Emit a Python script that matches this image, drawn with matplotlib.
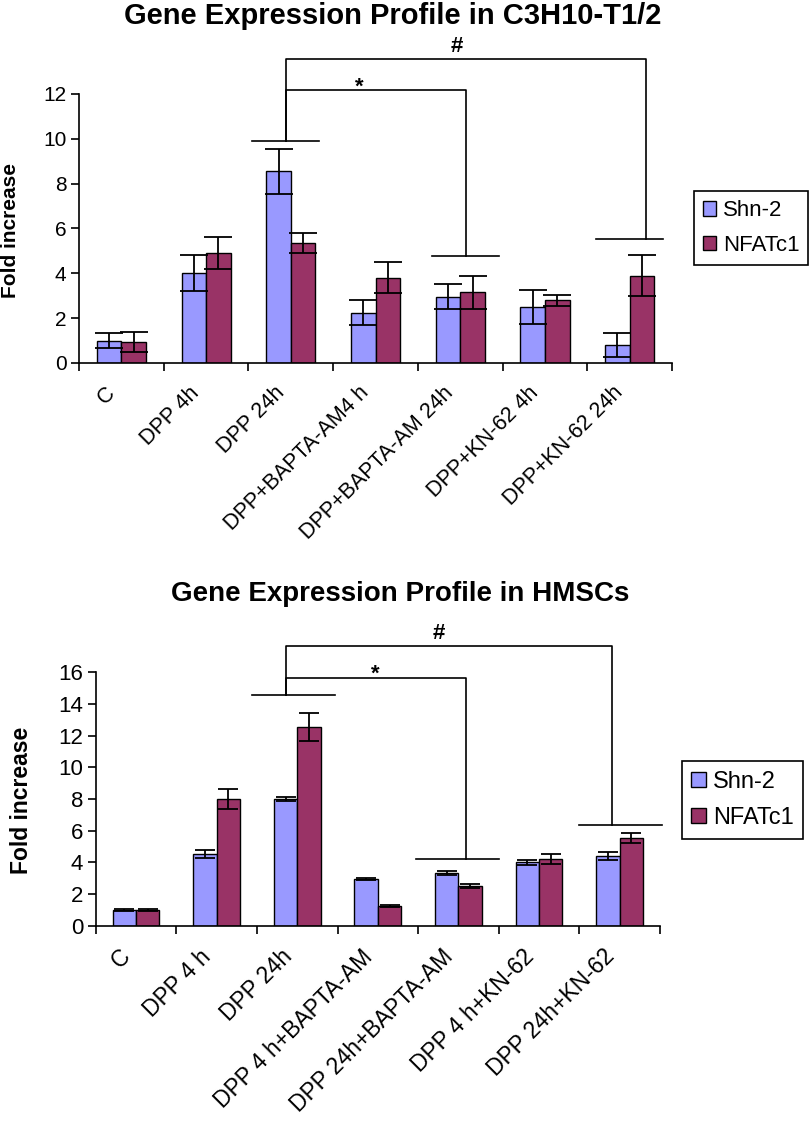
import numpy as np
import matplotlib
matplotlib.use('Agg')
import matplotlib.pyplot as plt
from matplotlib.transforms import ScaledTranslation

plt.rcParams['font.family'] = ['Liberation Sans', 'DejaVu Sans']

# ── Data ──────────────────────────────────────────────────────────
labels_top = ['C', 'DPP 4h', 'DPP 24h', 'DPP+BAPTA-AM4 h', 'DPP+BAPTA-AM 24h',
              'DPP+KN-62 4h', 'DPP+KN-62 24h']
shn_top = [1.0, 4.0, 8.55, 2.25, 2.95, 2.5, 0.8]
shn_top_err = [0.35, 0.8, 1.0, 0.55, 0.55, 0.75, 0.55]
nfat_top = [0.95, 4.9, 5.35, 3.8, 3.15, 2.8, 3.9]
nfat_top_err = [0.45, 0.7, 0.45, 0.7, 0.75, 0.25, 0.9]

labels_bot = ['C', 'DPP 4 h', 'DPP 24h', 'DPP 4 h+BAPTA-AM', 'DPP 24h+BAPTA-AM',
              'DPP 4 h+KN-62', 'DPP 24h+KN-62']
shn_bot = [1.0, 4.5, 8.0, 2.97, 3.35, 4.0, 4.4]
shn_bot_err = [0.08, 0.25, 0.15, 0.06, 0.12, 0.15, 0.25]
nfat_bot = [1.0, 8.0, 12.55, 1.25, 2.5, 4.2, 5.55]
nfat_bot_err = [0.08, 0.65, 0.9, 0.05, 0.15, 0.3, 0.3]

series_names = ['Shn-2', 'NFATc1']

# significance brackets: short lines over groups (x0, x1, y), and the
# connecting brackets (x_start, x_end, y_top, y_drop_end)
top_bases = [(1.54, 2.33, 9.92), (3.67, 4.46, 4.79), (5.60, 6.39, 5.54)]
top_links = [(1.94, 4.07, 12.16, 4.79), (1.94, 6.19, 13.56, 5.54)]
top_marks = [('*', 2.81, 12.31), ('#', 3.96, 14.12)]

bot_bases = [(1.44, 2.47, 14.56), (3.47, 4.50, 4.23), (5.50, 6.53, 6.34)]
bot_links = [(1.86, 4.09, 15.62, 4.23), (1.86, 5.91, 17.66, 6.34)]
bot_marks = [('*', 2.97, 15.9), ('#', 3.75, 18.48)]

C_SHN = '#9999FF'
C_NFAT = '#993366'

fig = plt.figure(figsize=(8.12, 11.3), dpi=100)
ax1 = fig.add_axes([0.0973, 0.6788, 0.7303, 0.2381])
ax2 = fig.add_axes([0.1179, 0.1808, 0.6949, 0.2242])


def draw_panel(ax, labels, shn, shn_err, nfat, nfat_err, ymax, tick_fs,
               lab_fs, capsize, label_dx):
    x = np.arange(len(labels))
    w = 0.29
    ekw = dict(ecolor='black', elinewidth=1.3, capsize=capsize, capthick=1.3)
    ax.bar(x - w/2, shn, w, yerr=shn_err, color=C_SHN, edgecolor='black',
           linewidth=1.0, label=series_names[0], error_kw=ekw, zorder=2)
    ax.bar(x + w/2, nfat, w, yerr=nfat_err, color=C_NFAT, edgecolor='black',
           linewidth=1.0, label=series_names[1], error_kw=ekw, zorder=2)
    ax.set_xlim(-0.5, len(labels) - 0.5)
    ax.set_ylim(0, ymax)
    ax.set_yticks(np.arange(0, ymax + 1, 2))
    ax.tick_params(axis='y', labelsize=tick_fs, length=6, width=1.2, pad=3)
    # Excel-style: tick marks between categories, labels at centres
    ax.set_xticks(np.arange(len(labels) + 1) - 0.5)
    ax.set_xticklabels([])
    ax.tick_params(axis='x', which='major', length=6, width=1.2)
    ax.set_xticks(x, minor=True)
    ax.set_xticklabels(labels, minor=True, rotation=45, ha='right',
                       rotation_mode='anchor', fontsize=lab_fs)
    ax.tick_params(axis='x', which='minor', length=0, pad=14)
    off = ScaledTranslation(label_dx, 0, fig.dpi_scale_trans)
    for t in ax.get_xticklabels(minor=True):
        t.set_transform(t.get_transform() + off)
    for s in ['top', 'right']:
        ax.spines[s].set_visible(False)
    for s in ['left', 'bottom']:
        ax.spines[s].set_linewidth(1.2)


def draw_brackets(ax, bases, links, marks, fs):
    kw = dict(color='black', lw=1.2, clip_on=False, zorder=3)
    for x0, x1, y in bases:
        ax.plot([x0, x1], [y, y], **kw)
    for xs, xe, yt, yd in links:
        y_start = max(b[2] for b in bases if b[0] <= xs <= b[1])
        ax.plot([xs, xs, xe, xe], [y_start, yt, yt, yd], **kw)
    for m, mx, my in marks:
        ax.text(mx, my, m, ha='center', va='center', fontsize=fs,
                fontweight='bold', clip_on=False)


draw_panel(ax1, labels_top, shn_top, shn_top_err, nfat_top, nfat_top_err,
           12, 15, 15.5, 10, -0.17)
draw_brackets(ax1, top_bases, top_links, top_marks, 16)
ax1.set_ylabel('Fold increase', fontsize=15, fontweight='bold')
ax1.yaxis.set_label_coords(-0.10, 0.494)

draw_panel(ax2, labels_bot, shn_bot, shn_bot_err, nfat_bot, nfat_bot_err,
           16, 16, 16.5, 7, -0.17)
draw_brackets(ax2, bot_bases, bot_links, bot_marks, 16)
ax2.set_ylabel('Fold increase', fontsize=16.5, fontweight='bold')
ax2.yaxis.set_label_coords(-0.111, 0.496)

fig.text(0.483, 0.986, 'Gene Expression Profile in C3H10-T1/2', ha='center',
         va='center', fontsize=21, fontweight='bold')
fig.text(0.493, 0.474, 'Gene Expression Profile in HMSCs', ha='center',
         va='center', fontsize=20, fontweight='bold')

for ax, anchor, fs in [(ax1, (694/812, 1 - 228/1130), 16),
                       (ax2, (682/812, 1 - 800/1130), 17)]:
    leg = ax.legend(loc='center left', bbox_to_anchor=anchor,
                    bbox_transform=fig.transFigure, fontsize=fs, frameon=True,
                    fancybox=False, edgecolor='black', framealpha=1,
                    handlelength=0.6, handleheight=0.6, handletextpad=0.3,
                    borderpad=0.4, labelspacing=0.6, borderaxespad=0)
    leg.get_frame().set_linewidth(1.2)

fig.savefig('out.png', dpi=100, facecolor='white')
